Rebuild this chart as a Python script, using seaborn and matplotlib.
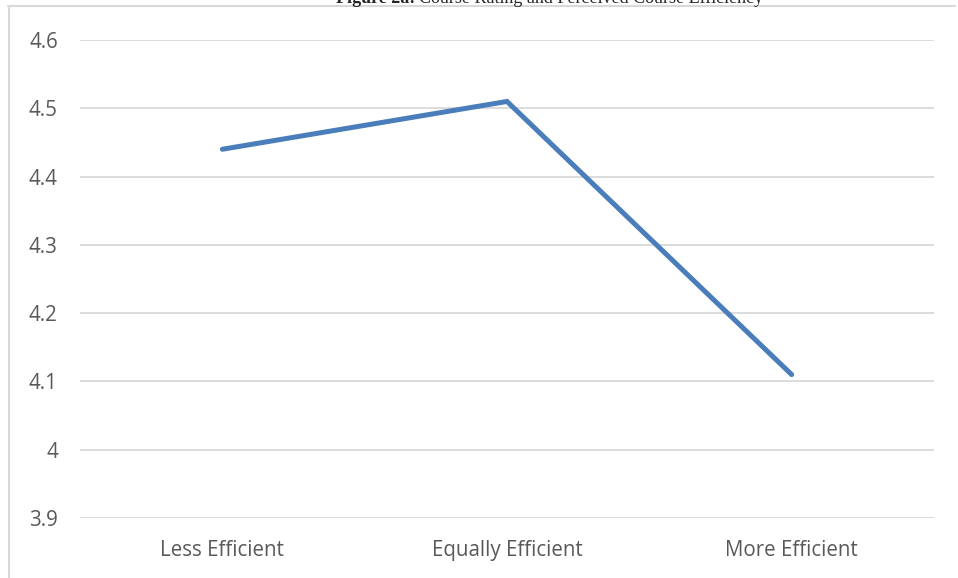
import matplotlib
matplotlib.use("Agg")
import matplotlib.pyplot as plt
from matplotlib.lines import Line2D
import pandas as pd
import seaborn as sns

categories = ["Less Efficient", "Equally Efficient", "More Efficient"]
ratings = [4.44, 4.51, 4.11]
y_ticks = [3.9, 4.0, 4.1, 4.2, 4.3, 4.4, 4.5, 4.6]
y_tick_labels = ["3.9", "4", "4.1", "4.2", "4.3", "4.4", "4.5", "4.6"]

df = pd.DataFrame({"Efficiency": categories, "Rating": ratings})

sns.set_theme(style="white")
plt.rcParams["font.family"] = ["Open Sans", "DejaVu Sans"]

W, H = 958, 578
fig = plt.figure(figsize=(W / 100, H / 100), dpi=100)
ax = fig.add_axes([80 / W, (H - 518) / H, (934 - 80) / W, (518 - 40) / H])

sns.lineplot(data=df, x="Efficiency", y="Rating", ax=ax, color="#4A7EBB",
             linewidth=3.6, solid_capstyle="round", solid_joinstyle="miter",
             sort=False, zorder=3)

ax.set_xlim(-0.5, 2.5)
ax.set_ylim(3.9, 4.6)
ax.set_yticks(y_ticks)
ax.set_yticklabels(y_tick_labels)
ax.grid(axis="y", color="#D9D9D9", linewidth=1.3)
ax.grid(axis="x", visible=False)
for s in ax.spines.values():
    s.set_visible(False)
ax.tick_params(axis="both", length=0, labelsize=14.8, labelcolor="#595959")
ax.tick_params(axis="y", pad=16)
ax.tick_params(axis="x", pad=16)
ax.set_xlabel("")
ax.set_ylabel("")

# frame of the surrounding box
fig.add_artist(Line2D([8 / W, 955 / W], [(H - 5.5) / H] * 2, color="#D9D9D9",
                      linewidth=1.5, transform=fig.transFigure))
fig.add_artist(Line2D([8.5 / W] * 2, [0, (H - 5.5) / H], color="#D9D9D9",
                      linewidth=1.5, transform=fig.transFigure))

# title sitting above the frame
fig.text(336 / W, (H - 3) / H, "Figure 2a:", ha="left", va="baseline",
         fontsize=13, fontweight="bold", family=["Liberation Serif"])
fig.text(419 / W, (H - 3) / H, "Course Rating and Perceived Course Efficiency",
         ha="left", va="baseline", fontsize=13, family=["Liberation Serif"])

fig.savefig("out.png", dpi=100)
